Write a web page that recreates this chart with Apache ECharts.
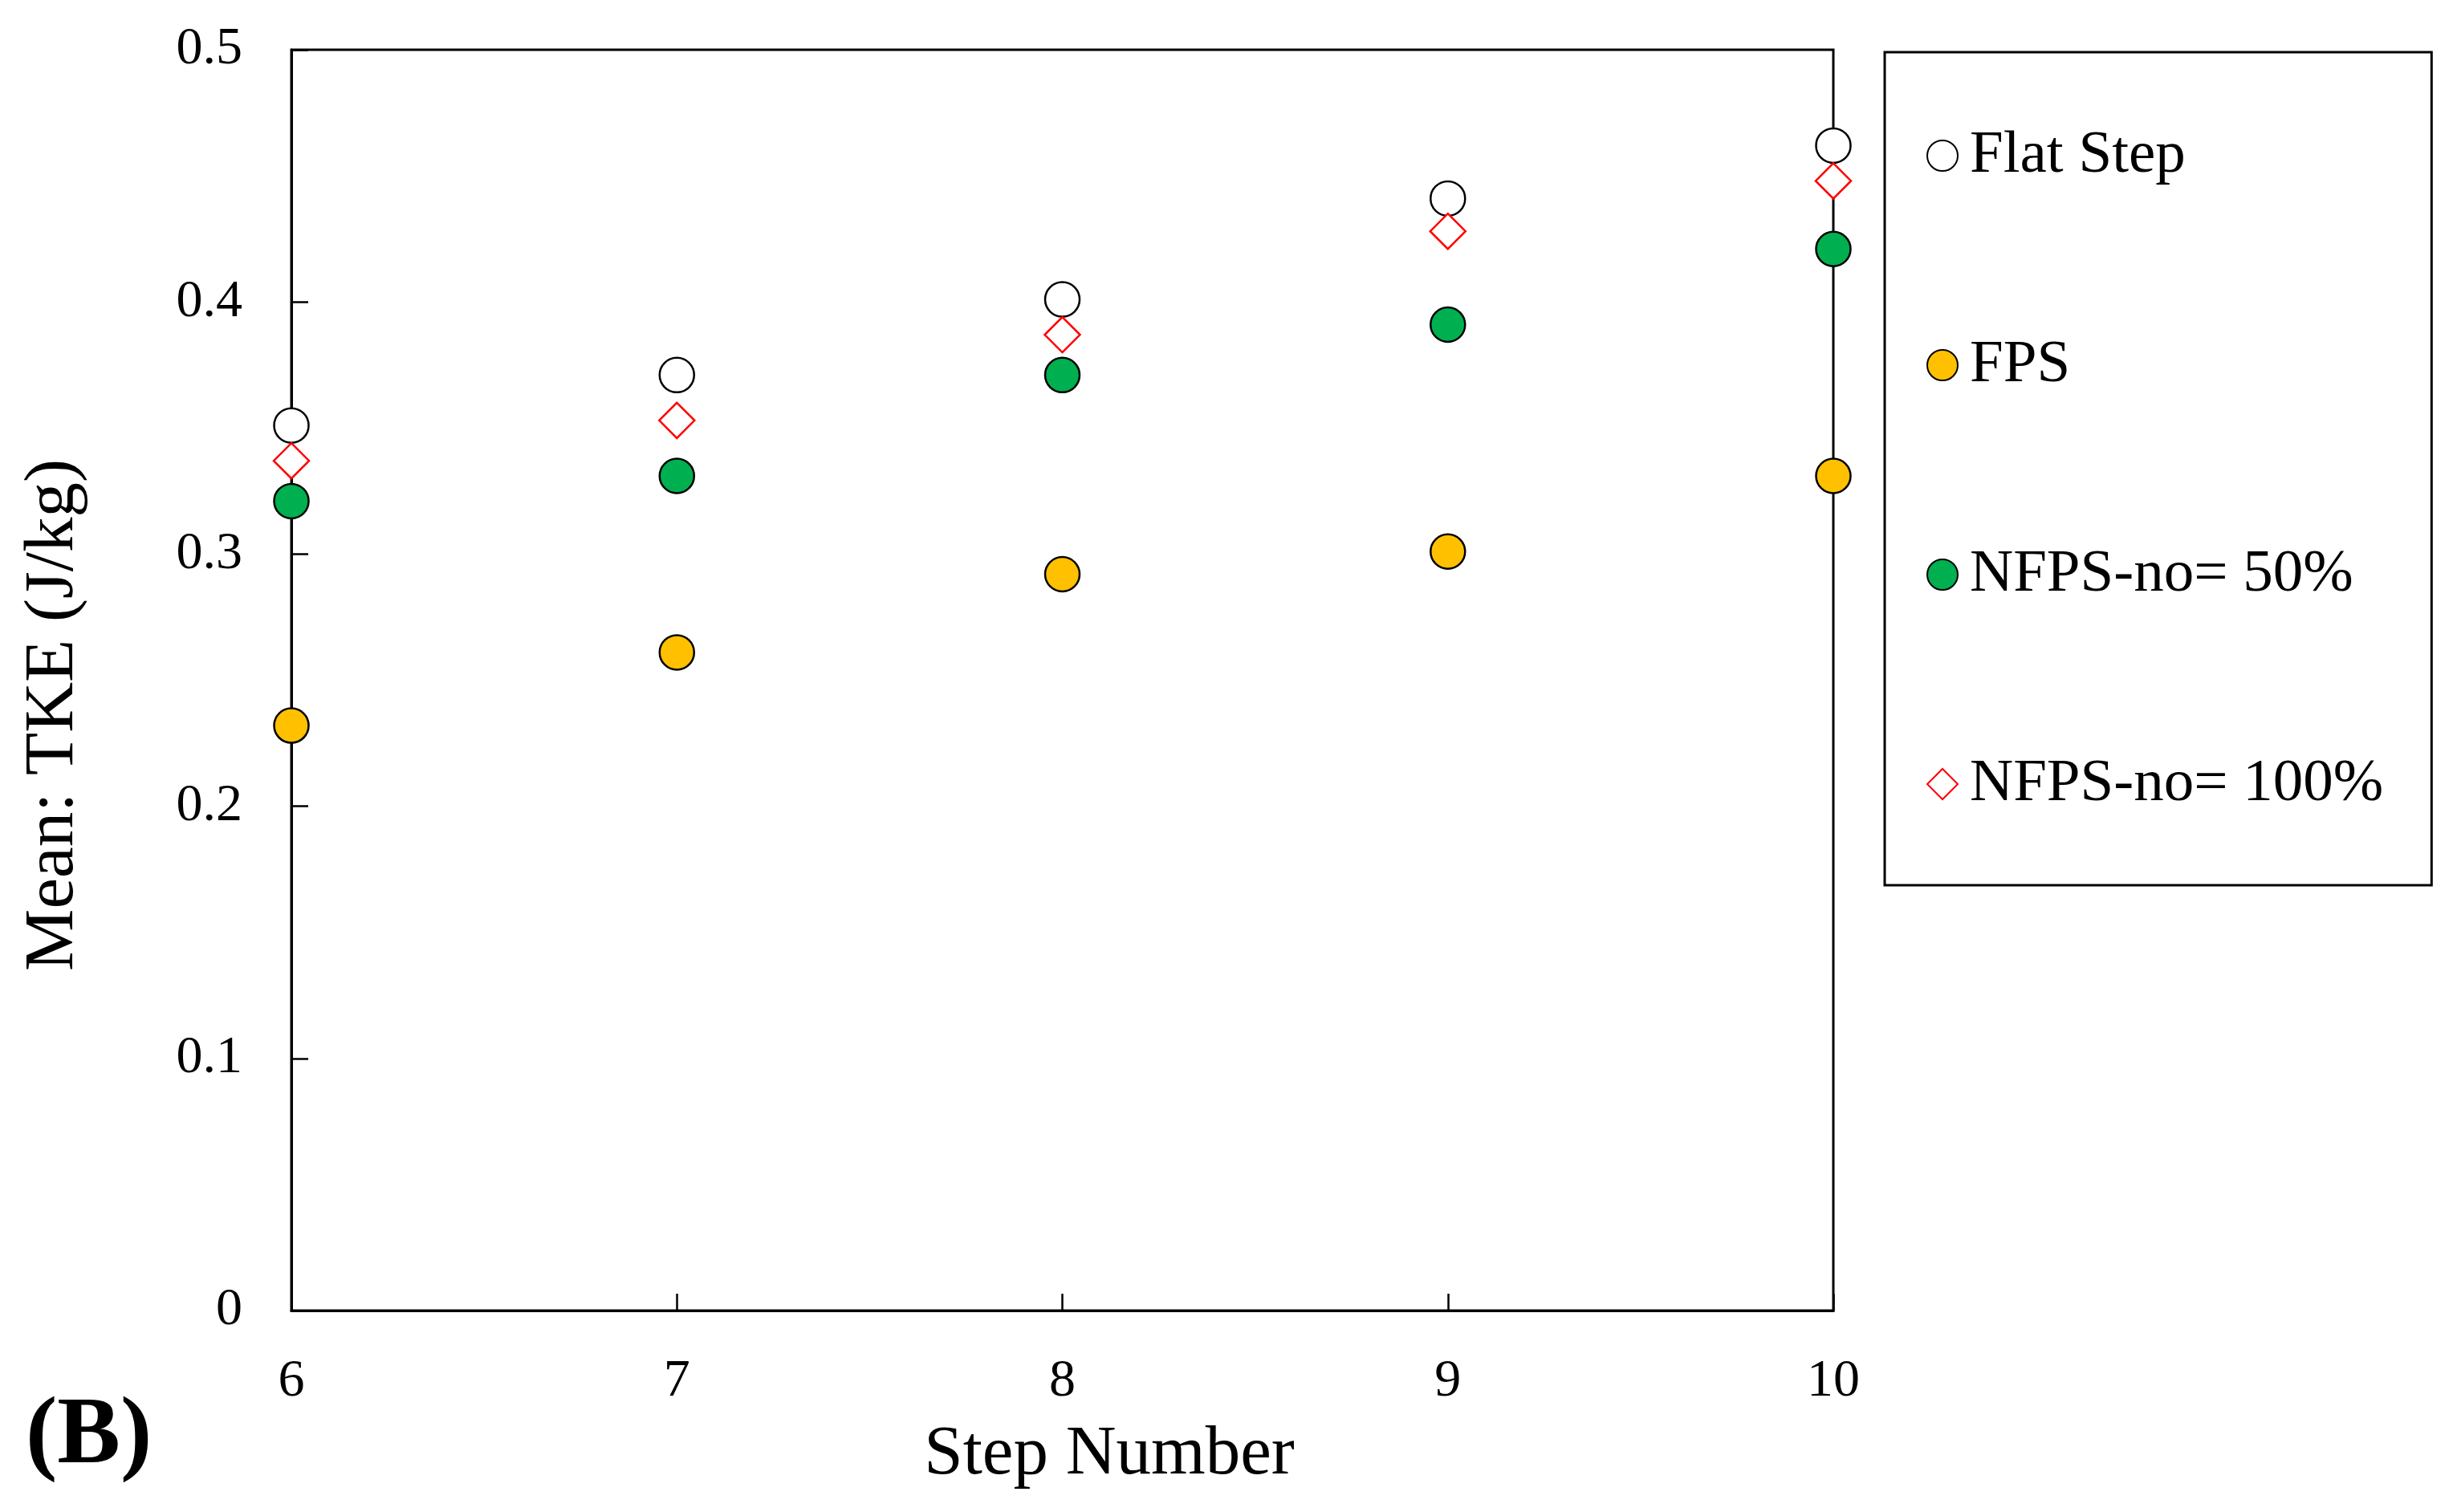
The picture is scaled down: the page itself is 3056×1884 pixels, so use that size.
<!DOCTYPE html>
<html>
<head>
<meta charset="utf-8">
<script src="https://cdn.jsdelivr.net/npm/echarts@6/dist/echarts.min.js"></script>
<style>
html,body{margin:0;padding:0;background:#fff;}
#chart{width:3056px;height:1884px;}
</style>
</head>
<body>
<div id="chart"></div>
<script>
// ---- data ----
const steps = [6, 7, 8, 9, 10];
const flatStep = [0.351, 0.371, 0.401, 0.441, 0.462];
const fps = [0.232, 0.261, 0.292, 0.301, 0.331];
const nfps50 = [0.321, 0.331, 0.371, 0.391, 0.421];
const nfps100 = [0.337, 0.353, 0.387, 0.428, 0.448];
const seriesNames = ['Flat Step', 'FPS', 'NFPS-no= 50%', 'NFPS-no= 100%'];
const xTicks = [6, 7, 8, 9, 10];
const yTicks = [0, 0.1, 0.2, 0.3, 0.4, 0.5];
const xTitle = 'Step Number';
const yTitle = 'Mean: TKE (J/kg)';
const panelLabel = '(B)';

const FONT = '"Liberation Serif", "Times New Roman", serif';
const pairs = arr => steps.map((s, i) => [s, arr[i]]);

const chart = echarts.init(document.getElementById('chart'));
chart.setOption({
  animation: false,
  backgroundColor: '#ffffff',
  grid: {
    left: 363, top: 62, right: 772, bottom: 251,
    show: true, borderColor: '#000', borderWidth: 3, backgroundColor: 'transparent'
  },
  xAxis: {
    type: 'value', min: xTicks[0], max: xTicks[xTicks.length - 1], interval: 1,
    axisLine: { show: true, onZero: false, lineStyle: { color: '#000', width: 3 } },
    axisTick: { show: true, inside: true, length: 21, lineStyle: { color: '#000', width: 2.5 } },
    axisLabel: { color: '#000', fontFamily: FONT, fontSize: 66, margin: 56 },
    splitLine: { show: false }
  },
  yAxis: {
    type: 'value', min: yTicks[0], max: yTicks[yTicks.length - 1], interval: 0.1,
    axisLine: { show: true, onZero: false, lineStyle: { color: '#000', width: 3 } },
    axisTick: { show: true, inside: true, length: 21, lineStyle: { color: '#000', width: 2.5 } },
    axisLabel: { color: '#000', fontFamily: FONT, fontSize: 66, margin: 61 },
    splitLine: { show: false }
  },
  legend: {
    orient: 'vertical',
    left: 2348, top: 65,
    padding: [89, 60, 86, 52],
    itemGap: 181,
    itemWidth: 38, itemHeight: 38,
    itemTextGap: 22,
    borderColor: '#000', borderWidth: 3,
    textStyle: { color: '#000', fontFamily: FONT, fontSize: 75, lineHeight: 80, padding: [0, 0, 0, 10] },
    data: seriesNames
  },
  graphic: [
    {
      type: 'text', x: 67, y: 891, rotation: Math.PI / 2,
      style: { text: yTitle, font: '87px ' + FONT, fill: '#000', align: 'center', verticalAlign: 'middle' }
    },
    {
      type: 'text', x: 1382, y: 1813,
      style: { text: xTitle, font: '87px ' + FONT, fill: '#000', align: 'center', verticalAlign: 'middle' }
    },
    {
      type: 'text', x: 32, y: 1792,
      style: { text: panelLabel, font: 'bold 118px ' + FONT, fill: '#000', align: 'left', verticalAlign: 'middle' }
    }
  ],
  series: [
    {
      name: seriesNames[0], type: 'scatter', data: pairs(flatStep), clip: false,
      symbol: 'circle', symbolSize: 43,
      itemStyle: { color: '#ffffff', borderColor: '#000', borderWidth: 2.5, opacity: 1 }
    },
    {
      name: seriesNames[1], type: 'scatter', data: pairs(fps), clip: false,
      symbol: 'circle', symbolSize: 43,
      itemStyle: { color: '#FFC000', borderColor: '#000', borderWidth: 2.5, opacity: 1 }
    },
    {
      name: seriesNames[2], type: 'scatter', data: pairs(nfps50), clip: false,
      symbol: 'circle', symbolSize: 43,
      itemStyle: { color: '#00B050', borderColor: '#000', borderWidth: 2.5, opacity: 1 }
    },
    {
      name: seriesNames[3], type: 'scatter', data: pairs(nfps100), clip: false,
      symbol: 'diamond', symbolSize: 44,
      itemStyle: { color: '#ffffff', borderColor: '#FF0000', borderWidth: 2.5, opacity: 1 }
    }
  ]
});
</script>
</body>
</html>
